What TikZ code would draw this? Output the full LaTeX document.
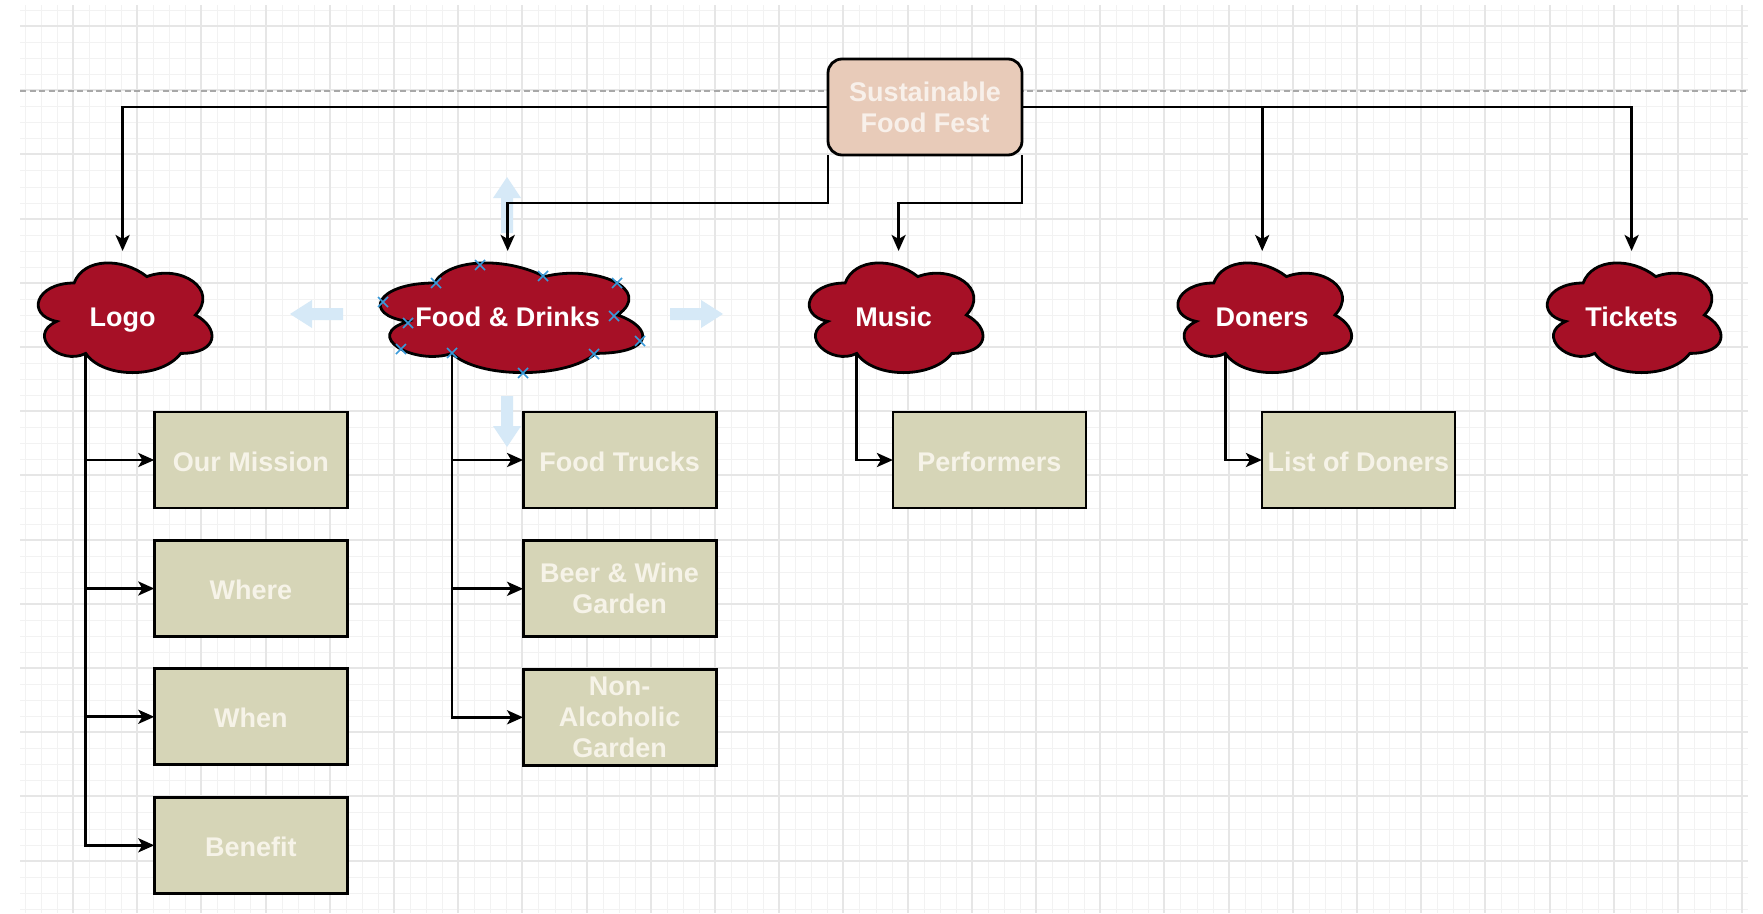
\documentclass[tikz,border=0pt]{standalone}
\usepackage{fontspec}
\setmainfont{Liberation Sans}
\usetikzlibrary{arrows.meta,calc}
\definecolor{cloudred}{HTML}{A61026}
\definecolor{boxfill}{HTML}{D6D5B7}
\definecolor{boxtext}{HTML}{F6F3E8}
\definecolor{rootfill}{HTML}{E8CBB9}
\definecolor{roottext}{HTML}{F8F0EA}
\definecolor{gridminor}{HTML}{F2F2F2}
\definecolor{gridmajor}{HTML}{E6E6E6}
\definecolor{hoverblue}{HTML}{D6E9F7}
\definecolor{markblue}{HTML}{3A9AD9}
\definecolor{pageline}{HTML}{A8A8A8}
\pgfdeclarelayer{gridlayer}
\pgfdeclarelayer{edgelayer}
\pgfdeclarelayer{cloudlayer}
\pgfsetlayers{gridlayer,edgelayer,cloudlayer,main}
\newcommand\drawiocloud{%
  (0.25,0.25) .. controls (0.05,0.25) and (0,0.5) .. (0.16,0.55)
  .. controls (0,0.66) and (0.18,0.9) .. (0.31,0.8)
  .. controls (0.4,1) and (0.7,1) .. (0.8,0.8)
  .. controls (1,0.8) and (1,0.6) .. (0.875,0.5)
  .. controls (1,0.3) and (0.8,0.1) .. (0.625,0.2)
  .. controls (0.5,0.05) and (0.3,0.05) .. (0.25,0.25) -- cycle}
\tikzset{
  every node/.style={font=\fontsize{27}{31}\selectfont\bfseries},
  dcloud/.style={minimum width=#1pt, minimum height=128pt, inner sep=0pt, outer sep=0pt,
    text=white, text height=22pt, text depth=0pt},
  cloudline/.style={fill=cloudred,draw=black,line width=2.8pt},
  leafbox/.style={draw=black, line width=2.8pt, fill=boxfill, minimum width=193pt, minimum height=96pt,
    inner sep=0pt, outer sep=0pt, text=boxtext, align=center},
  oneline/.style={text height=22pt, text depth=0pt},
  rootbox/.style={draw=black, line width=2.8pt, fill=rootfill, rounded corners=14pt, minimum width=194pt,
    minimum height=96pt, inner sep=0pt, outer sep=0pt, text=roottext, align=center},
  conn/.style={draw=black, line width=2.8pt, -{Stealth[length=16pt,width=14pt,inset=4pt]}},
  xmark/.style={draw=markblue, line width=1.6pt},
}
\begin{document}
\begin{tikzpicture}[x=1pt,y=-1pt]
\useasboundingbox (0,0) rectangle (1763,913);
% background grid
\begin{pgfonlayer}{gridlayer}
\fill[white] (0,0) rectangle (1763,913);
\begin{scope}
\clip (20,5) rectangle (1748,913);
\foreach \i in {0,...,108} \draw[gridminor,line width=1pt] ({round(8.8+16.05*\i)+0.5},5) -- ({round(8.8+16.05*\i)+0.5},913);
\foreach \j in {0,...,56} \draw[gridminor,line width=1pt] (20,{round(9.95+16.05*\j)+0.5}) -- (1748,{round(9.95+16.05*\j)+0.5});
\foreach \i in {0,...,27} \draw[gridmajor,line width=1.6pt] ({round(8.8+64.2*\i)},5) -- ({round(8.8+64.2*\i)},913);
\foreach \j in {0,...,14} \draw[gridmajor,line width=1.6pt] (20,{round(26+64.2*\j)}) -- (1748,{round(26+64.2*\j)});
\draw[pageline,line width=1.5pt,dash pattern=on 6pt off 3.5pt] (20,91) -- (1748,91);
\end{scope}
\end{pgfonlayer}

% nodes
\node[rootbox] (root) at (925,107) {Sustainable\\Food Fest};
\node[dcloud=194] (logo) at (122.6,315) {Logo};
\node[dcloud=293] (food) at (507.7,315) {Food \& Drinks};
\node[dcloud=194] (music) at (893.6,315) {Music};
\node[dcloud=194] (doners) at (1262.2,315) {Doners};
\node[dcloud=194] (tickets) at (1631.6,315) {Tickets};

% cloud outlines behind the cloud labels
\begin{pgfonlayer}{cloudlayer}
\foreach \c/\w in {logo/194, food/293, music/194, doners/194, tickets/194}
  \draw[cloudline,shift={(\c.north west)},x=\w pt,y=-128pt] \drawiocloud;
\end{pgfonlayer}

\node[leafbox,oneline] (mission) at (250.8,460) {Our Mission};
\node[leafbox,oneline] (where) at (250.8,588.5) {Where};
\node[leafbox,oneline] (when) at (250.8,716.8) {When};
\node[leafbox,oneline] (benefit) at (250.8,845.3) {Benefit};
\node[leafbox,oneline] (trucks) at (619.6,460) {Food Trucks};
\node[leafbox] (beer) at (619.6,588.8) {Beer \& Wine\\Garden};
\node[leafbox] (nonalc) at (619.6,717.3) {Non-\\Alcoholic\\Garden};
\node[leafbox,oneline] (performers) at (989.4,460) {Performers};
\node[leafbox,oneline] (donerlist) at (1358.4,460) {List of Doners};

% hover arrows and markers around Food & Drinks
\begin{pgfonlayer}{edgelayer}
\fill[hoverblue] (501,233) -- (501,198) -- (493,198) -- (507,177) -- (521,198) -- (513,198) -- (513,233) -- cycle;
\fill[hoverblue] (501,396) -- (501,426) -- (493,426) -- (507,447) -- (521,426) -- (513,426) -- (513,396) -- cycle;
\fill[hoverblue] (343,308) -- (312,308) -- (312,300) -- (290,314) -- (312,328) -- (312,320) -- (343,320) -- cycle;
\fill[hoverblue] (670,308) -- (701,308) -- (701,300) -- (723,314) -- (701,328) -- (701,320) -- (670,320) -- cycle;
\end{pgfonlayer}
\foreach \mx/\my in {480/265, 436/283, 543/276, 617/283, 383/302, 614/316, 408/323, 640/341, 401/349, 452/353, 594/354, 523/373}
  \draw[xmark] (\mx-5,\my-5) -- (\mx+5,\my+5) (\mx-5,\my+5) -- (\mx+5,\my-5);

% connectors
\coordinate (logoout) at ($(logo.north west)!0.31!(logo.north east)+(0,102.4)$);
\coordinate (foodout) at ($(food.north west)!0.31!(food.north east)+(0,102.4)$);
\coordinate (musicout) at ($(music.north west)!0.31!(music.north east)+(0,102.4)$);
\coordinate (donersout) at ($(doners.north west)!0.31!(doners.north east)+(0,102.4)$);
\coordinate (musicin) at ($(music.north)+(5,0)$);
\begin{pgfonlayer}{edgelayer}
\draw[conn] (root.west) -| (logo.north);
\draw[conn] (root.east) -| (doners.north);
\draw[conn] (root.east) -| (tickets.north);
\draw[conn] (root.south west) -- ++(0,48) -| (food.north);
\draw[conn] (root.south east) -- ++(0,48) -| (musicin);
\draw[conn] (logoout) |- (mission.west);
\draw[conn] (logoout) |- (where.west);
\draw[conn] (logoout) |- (when.west);
\draw[conn] (logoout) |- (benefit.west);
\draw[conn] (foodout) |- (trucks.west);
\draw[conn] (foodout) |- (beer.west);
\draw[conn] (foodout) |- (nonalc.west);
\draw[conn] (musicout) |- (performers.west);
\draw[conn] (donersout) |- (donerlist.west);
\end{pgfonlayer}
\end{tikzpicture}
\end{document}
